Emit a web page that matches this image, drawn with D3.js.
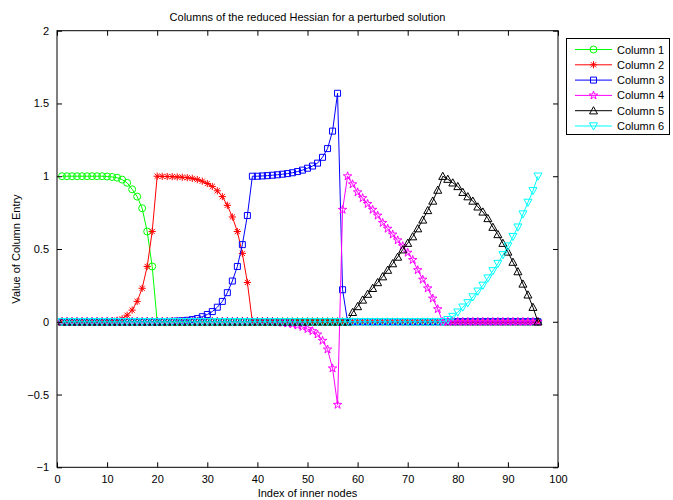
<!DOCTYPE html>
<html>
<head>
<meta charset="utf-8">
<style>
body { margin: 0; background: #fff; }
svg text { font-family: "Liberation Sans", Arial, Helvetica, sans-serif; }
</style>
</head>
<body>
<svg id="chart" width="673" height="500"></svg>
<script src="https://d3js.org/d3.v7.min.js"></script>
<script>

// index of inner nodes
var nodes = d3.range(1, 97);

var col1 = [
  1, 1, 1, 1, 1, 1, 1, 1, 1, 0.998,                      // 1-10
  0.995, 0.99, 0.977, 0.955, 0.91, 0.86, 0.78, 0.62, 0.38, 0, // 11-20
  0, 0, 0, 0, 0, 0, 0, 0, 0, 0,                          // 21-30
  0, 0, 0, 0, 0, 0, 0, 0, 0, 0,                          // 31-40
  0, 0, 0, 0, 0, 0, 0, 0, 0, 0,                          // 41-50
  0, 0, 0, 0, 0, 0, 0, 0, 0, 0,                          // 51-60
  0, 0, 0, 0, 0, 0, 0, 0, 0, 0,                          // 61-70
  0, 0, 0, 0, 0, 0, 0, 0, 0, 0,                          // 71-80
  0, 0, 0, 0, 0, 0, 0, 0, 0, 0,                          // 81-90
  0, 0, 0, 0, 0, 0                                       // 91-96
];

var col2 = [
  0, 0, 0, 0, 0, 0, 0, 0, 0.002, 0.003,
  0.005, 0.01, 0.02, 0.045, 0.08, 0.14, 0.23, 0.38, 0.62, 1,
  0.999, 0.998, 0.997, 0.995, 0.993, 0.99, 0.985, 0.977, 0.966, 0.95,
  0.93, 0.9, 0.86, 0.8, 0.72, 0.62, 0.47, 0.27, 0, 0,
  0, 0, 0, 0, 0, 0, 0, 0, 0, 0,
  0, 0, 0, 0, 0, 0, 0, 0, 0, 0,
  0, 0, 0, 0, 0, 0, 0, 0, 0, 0,
  0, 0, 0, 0, 0, 0, 0, 0, 0, 0,
  0, 0, 0, 0, 0, 0, 0, 0, 0, 0,
  0, 0, 0, 0, 0, 0
];

var col3 = [
  0, 0, 0, 0, 0, 0, 0, 0, 0, 0,
  0, 0, 0, 0, 0, 0, 0, 0, 0, 0,
  0.001, 0.002, 0.003, 0.005, 0.007, 0.01, 0.015, 0.022, 0.035, 0.05,
  0.07, 0.1, 0.14, 0.2, 0.28, 0.38, 0.53, 0.73, 1, 1,
  1.002, 1.004, 1.007, 1.01, 1.014, 1.018, 1.024, 1.032, 1.042, 1.055,
  1.07, 1.09, 1.13, 1.19, 1.31, 1.57, 0.22, 0, 0, 0,
  0, 0, 0, 0, 0, 0, 0, 0, 0, 0,
  0, 0, 0, 0, 0, 0, 0, 0, 0, 0,
  0, 0, 0, 0, 0, 0, 0, 0, 0, 0,
  0, 0, 0, 0, 0, 0
];

var col4 = [
  0, 0, 0, 0, 0, 0, 0, 0, 0, 0,
  0, 0, 0, 0, 0, 0, 0, 0, 0, 0,
  0, 0, 0, 0, 0, 0, 0, 0, 0, 0,
  0, 0, 0, 0, 0, 0, 0, 0, 0, 0,
  0, 0, 0, -0.004, -0.007, -0.011, -0.017, -0.025, -0.035, -0.05,
  -0.064, -0.087, -0.13, -0.19, -0.32, -0.57, 0.77, 1, 0.945, 0.89,
  0.85, 0.81, 0.77, 0.73, 0.68, 0.64, 0.6, 0.56, 0.52, 0.475,
  0.425, 0.355, 0.29, 0.23, 0.16, 0.087, 0, 0, 0, 0,
  0, 0, 0, 0, 0, 0, 0, 0, 0, 0,
  0, 0, 0, 0, 0, 0
];

var col5 = [
  0, 0, 0, 0, 0, 0, 0, 0, 0, 0,
  0, 0, 0, 0, 0, 0, 0, 0, 0, 0,
  0, 0, 0, 0, 0, 0, 0, 0, 0, 0,
  0, 0, 0, 0, 0, 0, 0, 0, 0, 0,
  0, 0, 0, 0, 0, 0, 0, 0, 0, 0,
  0, 0, 0, 0, 0, 0, 0, 0, 0.065, 0.105,
  0.15, 0.19, 0.23, 0.27, 0.31, 0.355, 0.4, 0.445, 0.495, 0.54,
  0.585, 0.64, 0.7, 0.765, 0.83, 0.905, 1, 0.98, 0.955, 0.93,
  0.89, 0.86, 0.83, 0.79, 0.755, 0.71, 0.65, 0.6, 0.54, 0.48,
  0.41, 0.345, 0.26, 0.185, 0.1, 0
];

var col6 = [
  0, 0, 0, 0, 0, 0, 0, 0, 0, 0,
  0, 0, 0, 0, 0, 0, 0, 0, 0, 0,
  0, 0, 0, 0, 0, 0, 0, 0, 0, 0,
  0, 0, 0, 0, 0, 0, 0, 0, 0, 0,
  0, 0, 0, 0, 0, 0, 0, 0, 0, 0,
  0, 0, 0, 0, 0, 0, 0, 0, 0, 0,
  0, 0, 0, 0, 0, 0, 0, 0, 0, 0,
  0, 0, 0, 0, 0, 0, 0, 0.014, 0.036, 0.066,
  0.1, 0.13, 0.17, 0.21, 0.25, 0.3, 0.35, 0.4, 0.46, 0.52,
  0.585, 0.65, 0.74, 0.82, 0.9, 1
];

var seriesNames = ["Column 1", "Column 2", "Column 3", "Column 4", "Column 5", "Column 6"];
var seriesValues = [col1, col2, col3, col4, col5, col6];
var seriesColors = ["#00ff00", "#ff0000", "#0000ff", "#ff00ff", "#000000", "#00ffff"];
var seriesMarkers = ["circle", "asterisk", "square", "star", "triUp", "triDown"];

var xTicks = [0, 10, 20, 30, 40, 50, 60, 70, 80, 90, 100];
var yTicks = [-1, -0.5, 0, 0.5, 1, 1.5, 2];

// marker shapes, size = half width in px
var markerTypes = {
  circle: { draw: function(p, r) { p.moveTo(r, 0); p.arc(0, 0, r, 0, 2 * Math.PI); } },
  square: { draw: function(p, r) { p.rect(-r, -r, 2 * r, 2 * r); } },
  asterisk: { draw: function(p, r) {
    var d = r * 0.72;
    p.moveTo(-r, 0); p.lineTo(r, 0);
    p.moveTo(0, -r); p.lineTo(0, r);
    p.moveTo(-d, -d); p.lineTo(d, d);
    p.moveTo(-d, d); p.lineTo(d, -d);
  } },
  star: d3.symbolStar,
  triUp: { draw: function(p, r) { p.moveTo(0, -r); p.lineTo(r, r * 0.8); p.lineTo(-r, r * 0.8); p.closePath(); } },
  triDown: { draw: function(p, r) { p.moveTo(0, r); p.lineTo(r, -r * 0.8); p.lineTo(-r, -r * 0.8); p.closePath(); } }
};
var markerSizes = { circle: 3.5, square: 3, asterisk: 3.6, star: 22, triUp: 4, triDown: 4 };

function marker(name) {
  return d3.symbol().type(markerTypes[name]).size(markerSizes[name]);
}

var svg = d3.select("#chart");

var plotLeft = 57, plotRight = 558, plotTop = 30.7, plotBottom = 467.3;

var x = d3.scaleLinear().domain([0, 100]).range([plotLeft, plotRight]);
var y = d3.scaleLinear().domain([-1, 2]).range([plotBottom, plotTop]);

// series
var line = d3.line()
    .x(function(d) { return x(d[0]); })
    .y(function(d) { return y(d[1]); });

seriesValues.forEach(function(vals, i) {
  var pts = nodes.map(function(n, j) { return [n, vals[j]]; });
  var g = svg.append("g").attr("class", "series");
  g.append("path")
      .datum(pts)
      .attr("d", line)
      .attr("fill", "none")
      .attr("stroke", seriesColors[i])
      .attr("stroke-width", 1);
  g.selectAll("path.mk")
      .data(pts)
      .enter().append("path")
      .attr("class", "mk")
      .attr("transform", function(d) { return "translate(" + x(d[0]) + "," + y(d[1]) + ")"; })
      .attr("d", marker(seriesMarkers[i]))
      .attr("fill", "none")
      .attr("stroke", seriesColors[i])
      .attr("stroke-width", 1);
});

// axes, ticks pointing inward
var fmt = d3.format("");

svg.append("g")
    .attr("transform", "translate(0," + plotBottom + ")")
    .call(d3.axisBottom(x).tickValues(xTicks).tickFormat(fmt).tickSizeInner(-5).tickSizeOuter(0).tickPadding(8));
svg.append("g")
    .attr("transform", "translate(0," + plotTop + ")")
    .call(d3.axisTop(x).tickValues(xTicks).tickFormat("").tickSizeInner(-5).tickSizeOuter(0));
svg.append("g")
    .attr("transform", "translate(" + plotLeft + ",0)")
    .call(d3.axisLeft(y).tickValues(yTicks).tickFormat(fmt).tickSizeInner(-5).tickSizeOuter(0).tickPadding(8));
svg.append("g")
    .attr("transform", "translate(" + plotRight + ",0)")
    .call(d3.axisRight(y).tickValues(yTicks).tickFormat("").tickSizeInner(-5).tickSizeOuter(0));

svg.selectAll(".tick text").attr("font-size", 11).attr("fill", "#000");
svg.selectAll(".tick line").attr("stroke", "#000");
svg.selectAll(".domain").remove();

svg.append("rect")
    .attr("x", plotLeft).attr("y", plotTop)
    .attr("width", plotRight - plotLeft).attr("height", plotBottom - plotTop)
    .attr("fill", "none")
    .attr("stroke", "#000")
    .attr("stroke-width", 1);

// labels
svg.append("text")
    .attr("x", (plotLeft + plotRight) / 2).attr("y", 21)
    .attr("text-anchor", "middle").attr("font-size", 11)
    .text("Columns of the reduced Hessian for a perturbed solution");
svg.append("text")
    .attr("x", (plotLeft + plotRight) / 2).attr("y", 497)
    .attr("text-anchor", "middle").attr("font-size", 11)
    .text("Index of inner nodes");
svg.append("text")
    .attr("transform", "translate(20," + (plotTop + plotBottom) / 2 + ") rotate(-90)")
    .attr("text-anchor", "middle").attr("font-size", 11)
    .text("Value of Column Entry");

// legend
var legend = svg.append("g").attr("class", "legend");
legend.append("rect")
    .attr("x", 566.5).attr("y", 38.5)
    .attr("width", 103).attr("height", 96)
    .attr("fill", "#fff").attr("stroke", "#000").attr("stroke-width", 1);

var items = legend.selectAll("g.item")
    .data(seriesNames)
    .enter().append("g")
    .attr("class", "item")
    .attr("transform", function(d, i) { return "translate(0," + (49.5 + i * 15.3) + ")"; });

items.append("line")
    .attr("x1", 575).attr("x2", 612)
    .attr("stroke", function(d, i) { return seriesColors[i]; })
    .attr("stroke-width", 1);
items.append("path")
    .attr("transform", "translate(593.5,0)")
    .attr("d", function(d, i) { return marker(seriesMarkers[i])(); })
    .attr("fill", "none")
    .attr("stroke", function(d, i) { return seriesColors[i]; })
    .attr("stroke-width", 1);
items.append("text")
    .attr("x", 617).attr("y", 4)
    .attr("font-size", 11)
    .text(function(d) { return d; });

</script>
</body>
</html>
